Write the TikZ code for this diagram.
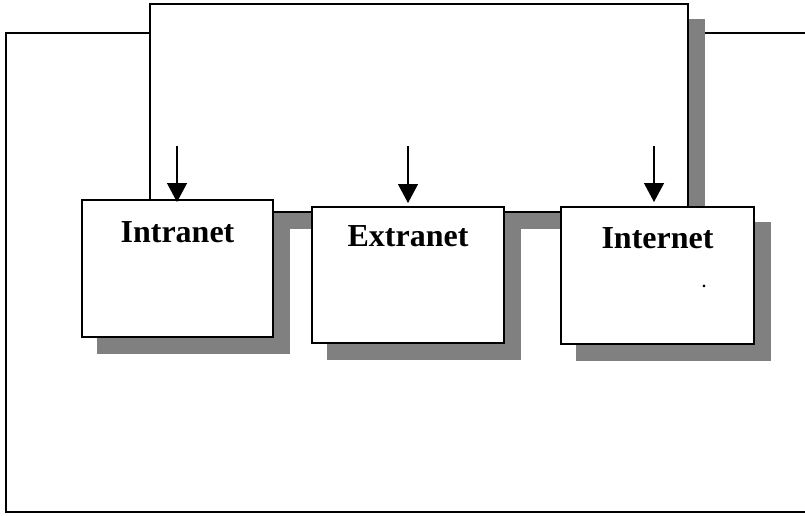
\documentclass[tikz,border=0pt]{standalone}
\usepackage{fontspec}
\setmainfont{Liberation Serif}
\usetikzlibrary{arrows.meta,calc}
\definecolor{shadowgray}{HTML}{808080}
\begin{document}
\begin{tikzpicture}[x=1pt,y=-1pt,
  box/.style={rectangle,draw=black,fill=white,line width=2pt,inner sep=0pt,
    preaction={fill=shadowgray,draw=shadowgray,transform canvas={shift={(16pt,-16pt)}}}},
  lbl/.style={anchor=base,font=\fontsize{32}{38}\selectfont\bfseries,inner sep=0pt},
  arr/.style={line width=1.3pt,-{Triangle[length=19pt,width=20pt]}},
  frameline/.style={line width=2pt,draw=black}]
\useasboundingbox (0,0) rectangle (805,515);
% outer frame
\coordinate (o1) at (805,33);
\coordinate (o2) at (6,33);
\coordinate (o3) at (6,512);
\coordinate (o4) at (805,512);
\draw[frameline] (o1) -- (o2) -- (o3) -- (o4);
% top box
\node[box,minimum width=538pt,minimum height=208pt] (top) at (419,108) {};
% three boxes
\node[box,minimum width=191pt,minimum height=137pt] (intra) at (177.5,268.5) {};
\node[box,minimum width=192pt,minimum height=136pt] (extra) at (408,275) {};
\node[box,minimum width=193pt,minimum height=137pt] (inter) at (657.5,275.5) {};
% labels
\node[lbl] (t1) at ([yshift=-43pt]intra.north) {Intranet};
\node[lbl] (t2) at ([yshift=-40.5pt]extra.north) {Extranet};
\node[lbl] (t3) at ([yshift=-42pt]inter.north) {Internet};
\node[anchor=base,inner sep=0pt,font=\fontsize{16}{18}\selectfont\bfseries] (dot) at (704,287) {.};
% arrows
\coordinate (s1) at (177,146);
\coordinate (s2) at (408,146);
\coordinate (s3) at (654,146);
\draw[arr,shorten >=-3pt] (s1) -- (s1 |- intra.north);
\draw[arr,shorten >=3pt] (s2) -- (s2 |- extra.north);
\draw[arr,shorten >=4pt] (s3) -- (s3 |- inter.north);
\end{tikzpicture}
\end{document}
